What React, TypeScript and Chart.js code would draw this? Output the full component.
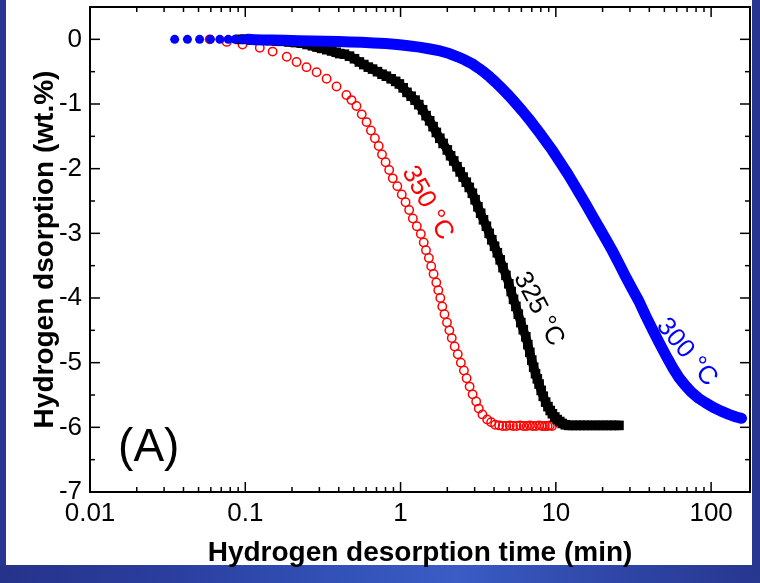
import React, { useEffect, useRef } from 'react';
import { Chart, registerables } from 'chart.js';

Chart.register(...registerables);

// ---------- data ----------
const X_TICKS = [0.01, 0.1, 1, 10, 100];
const X_TICK_LABELS = ['0.01', '0.1', '1', '10', '100'];
const X_MINOR_MULT = [2, 3, 4, 5, 6, 7, 8, 9];
const Y_TICKS = [-7, -6, -5, -4, -3, -2, -1, 0];
const Y_MINOR = [-6.5, -5.5, -4.5, -3.5, -2.5, -1.5, -0.5];

const SERIES_NAMES = ['300 °C', '325 °C', '350 °C'];

// 300 °C (blue filled circles)
const T300: [number, number][] = [
  [0.0351, 0], [0.0424, 0], [0.0508, 0], [0.0596, 0], [0.0686, 0], [0.0777, 0], [0.0859, 0], [0.0947, 0],
  [0.104, 0], [0.115, -0.005], [0.13, -0.01], [0.15, -0.01], [0.18, -0.015], [0.22, -0.02], [0.27, -0.025],
  [0.33, -0.03], [0.4, -0.035], [0.47, -0.04], [0.56, -0.045], [0.67, -0.055], [0.8, -0.065], [0.95, -0.08],
  [1.12, -0.1], [1.32, -0.12], [1.55, -0.15], [1.8, -0.18], [2.06, -0.22], [2.33, -0.27], [2.6, -0.32],
  [2.9, -0.38], [3.2, -0.45], [3.5, -0.52], [3.75, -0.58], [4.1, -0.665], [4.5, -0.76], [5.0, -0.875],
  [5.5, -0.985], [6.1, -1.11], [6.73, -1.235], [7.3, -1.345], [8.0, -1.47], [8.7, -1.59], [9.45, -1.71],
  [10.2, -1.83], [11.0, -1.95], [12.0, -2.09], [13.0, -2.23], [14.2, -2.385], [15.6, -2.55], [17.2, -2.73],
  [19.0, -2.91], [21.0, -3.09], [23.0, -3.26], [25.4, -3.46], [28.0, -3.66], [31.0, -3.86], [34.3, -4.05],
  [38.0, -4.28], [42.0, -4.49], [46.5, -4.7], [52.0, -4.92], [57.0, -5.09], [62.0, -5.23], [68.0, -5.35],
  [75.0, -5.46], [83.0, -5.55], [92.0, -5.62], [103.0, -5.69], [116.0, -5.75], [130.0, -5.8], [145.0, -5.84],
  [157.0, -5.86],
];

// 325 °C (black filled squares)
const T325: [number, number][] = [
  [0.092, 0], [0.1, 0], [0.11, -0.01], [0.12, -0.01], [0.13, -0.01], [0.145, -0.02], [0.16, -0.03],
  [0.175, -0.03], [0.19, -0.04], [0.21, -0.05], [0.23, -0.06], [0.25, -0.08], [0.271, -0.1], [0.29, -0.12],
  [0.31, -0.14], [0.335, -0.16], [0.36, -0.18], [0.385, -0.2], [0.405, -0.22], [0.435, -0.23], [0.469, -0.26],
  [0.505, -0.3], [0.543, -0.35], [0.58, -0.39], [0.62, -0.43], [0.66, -0.46], [0.71, -0.5], [0.76, -0.54],
  [0.81, -0.57], [0.87, -0.61], [0.93, -0.65], [0.982, -0.69], [1.04, -0.75], [1.1, -0.82], [1.17, -0.88],
  [1.24, -0.94], [1.31, -1.01], [1.387, -1.09], [1.46, -1.18], [1.54, -1.26], [1.62, -1.35], [1.7, -1.44],
  [1.79, -1.53], [1.88, -1.61], [2.0, -1.71], [2.1, -1.8], [2.2, -1.88], [2.31, -1.97], [2.42, -2.05],
  [2.53, -2.13], [2.65, -2.21], [2.77, -2.29], [2.9, -2.38], [3.02, -2.48], [3.15, -2.59], [3.28, -2.69],
  [3.42, -2.79], [3.57, -2.89], [3.72, -3.0], [3.87, -3.1], [4.03, -3.2], [4.2, -3.3], [4.38, -3.41],
  [4.57, -3.53], [4.77, -3.65], [4.98, -3.78], [5.16, -3.9], [5.34, -4.02], [5.53, -4.13], [5.73, -4.25],
  [5.95, -4.38], [6.17, -4.49], [6.405, -4.6], [6.6, -4.72], [6.8, -4.84], [7.0, -4.96], [7.2, -5.07],
  [7.4, -5.17], [7.6, -5.25], [7.8, -5.33], [8.05, -5.43], [8.3, -5.52], [8.6, -5.61], [8.9, -5.68],
  [9.2, -5.74], [9.5, -5.79], [9.85, -5.84], [10.2, -5.88], [10.6, -5.91], [11.0, -5.94], [11.5, -5.96],
  [12.1, -5.97], [12.8, -5.97], [13.5, -5.97], [14.3, -5.97], [15.1, -5.97], [16.0, -5.97], [17.0, -5.97],
  [18.0, -5.97], [19.1, -5.97], [20.2, -5.97], [21.4, -5.97], [22.7, -5.97], [24.0, -5.97], [25.5, -5.97],
];

// 350 °C (red open circles)
const T350: [number, number][] = [
  [0.059, 0], [0.076, -0.04], [0.096, -0.08], [0.124, -0.13], [0.15, -0.19], [0.185, -0.27], [0.214, -0.35],
  [0.248, -0.43], [0.288, -0.51], [0.334, -0.61], [0.387, -0.73], [0.448, -0.86], [0.483, -0.94],
  [0.52, -1.03], [0.5623, -1.16], [0.6037, -1.28], [0.6444, -1.41], [0.6835, -1.53], [0.7233, -1.65],
  [0.7594, -1.78], [0.8009, -1.9], [0.8446, -2.02], [0.891, -2.15], [0.9537, -2.27], [1.018, -2.4],
  [1.077, -2.52], [1.136, -2.64], [1.2, -2.77], [1.273, -2.89], [1.351, -3.01], [1.41, -3.14],
  [1.458, -3.26], [1.522, -3.38], [1.575, -3.51], [1.632, -3.63], [1.699, -3.76], [1.75, -3.88],
  [1.803, -4.0], [1.856, -4.13], [1.918, -4.25], [1.99, -4.38], [2.062, -4.5], [2.137, -4.62],
  [2.231, -4.75], [2.336, -4.87], [2.445, -5.0], [2.559, -5.12], [2.663, -5.24], [2.784, -5.37],
  [2.911, -5.49], [3.07, -5.6], [3.19, -5.71], [3.37, -5.8], [3.612, -5.88], [3.832, -5.92], [4.068, -5.96],
  [4.315, -5.97], [4.55, -5.98], [4.8, -5.98], [5.05, -5.97], [5.3, -5.98], [5.6, -5.98], [5.9, -5.97],
  [6.2, -5.98], [6.5, -5.98], [6.8, -5.97], [7.1, -5.98], [7.45, -5.98], [7.8, -5.97], [8.15, -5.98],
  [8.5, -5.98], [8.85, -5.98], [9.15, -5.97], [9.46, -5.98],
];

// ---------- styling ----------
const FONT_NARROW = '"Liberation Sans Narrow", "Arial Narrow", "Liberation Sans", Arial, sans-serif';
const FONT = '"Liberation Sans", Arial, sans-serif';

const ANNOTATIONS = [
  { text: SERIES_NAMES[2], x: 1.49, y: -2.53, angle: 61, color: '#ff0000', size: 26, family: FONT },
  { text: SERIES_NAMES[1], x: 7.75, y: -4.17, angle: 62, color: '#000000', size: 26, family: FONT },
  { text: SERIES_NAMES[0], x: 69.7, y: -4.84, angle: 50, color: '#0000ff', size: 26, family: FONT },
  { text: '(A)', x: 0.0239, y: -6.33, angle: 0, color: '#000000', size: 46, family: FONT },
];

const framePlugin = {
  id: 'frameTicks',
  afterDatasetsDraw(chart: any) {
    const { ctx, chartArea: a, scales } = chart;
    const xs = scales.x;
    const ys = scales.y;
    ctx.save();
    for (const an of ANNOTATIONS) {
      const px = xs.getPixelForValue(an.x);
      const py = ys.getPixelForValue(an.y);
      ctx.save();
      ctx.translate(px, py);
      ctx.rotate((an.angle * Math.PI) / 180);
      ctx.fillStyle = an.color;
      ctx.font = `${an.size}px ${an.family}`;
      ctx.textAlign = 'center';
      ctx.textBaseline = 'middle';
      ctx.fillText(an.text, 0, 0);
      ctx.restore();
    }
    ctx.strokeStyle = '#000';
    ctx.lineWidth = 2;
    ctx.strokeRect(a.left, a.top, a.right - a.left, a.bottom - a.top);
    ctx.lineWidth = 1.5;
    const seg = (x1: number, y1: number, x2: number, y2: number) => {
      ctx.beginPath();
      ctx.moveTo(x1, y1);
      ctx.lineTo(x2, y2);
      ctx.stroke();
    };
    const xMax = xs.max;
    for (const d of X_TICKS) {
      const px = xs.getPixelForValue(d);
      seg(px, a.bottom, px, a.bottom - 10);
      seg(px, a.top, px, a.top + 10);
      for (const m of X_MINOR_MULT) {
        const v = d * m;
        if (v > xMax) continue;
        const mx = xs.getPixelForValue(v);
        seg(mx, a.bottom, mx, a.bottom - 5);
        seg(mx, a.top, mx, a.top + 5);
      }
    }
    for (const v of Y_TICKS) {
      const py = ys.getPixelForValue(v);
      seg(a.left, py, a.left + 10, py);
      seg(a.right, py, a.right - 10, py);
    }
    for (const v of Y_MINOR) {
      const py = ys.getPixelForValue(v);
      seg(a.left, py, a.left + 5, py);
      seg(a.right, py, a.right - 5, py);
    }
    ctx.restore();
  },
};

export default function App() {
  const ref = useRef<HTMLCanvasElement>(null);

  useEffect(() => {
    const toPts = (arr: [number, number][]) => arr.map(([x, y]) => ({ x, y }));
    const chart = new Chart(ref.current!, {
      type: 'scatter',
      data: {
        datasets: [
          {
            label: SERIES_NAMES[0],
            data: toPts(T300),
            showLine: true,
            borderColor: '#0000ff',
            borderWidth: 11,
            borderCapStyle: 'round',
            borderJoinStyle: 'round',
            backgroundColor: '#0000ff',
            pointBackgroundColor: '#0000ff',
            pointBorderWidth: 0,
            pointRadius: 4.5,
            pointStyle: 'circle',
            segment: {
              borderColor: (c: any) => (c.p0.parsed.x < 0.1 ? 'rgba(0,0,0,0)' : undefined),
            },
          } as any,
          {
            label: SERIES_NAMES[1],
            data: toPts(T325),
            showLine: true,
            borderColor: '#000000',
            borderWidth: 9,
            borderJoinStyle: 'round',
            backgroundColor: '#000000',
            pointBackgroundColor: '#000000',
            pointBorderWidth: 0,
            pointRadius: 6.8,
            pointStyle: 'rect',
          } as any,
          {
            label: SERIES_NAMES[2],
            data: toPts(T350),
            showLine: false,
            backgroundColor: 'rgba(0,0,0,0)',
            pointBackgroundColor: 'rgba(0,0,0,0)',
            pointBorderColor: '#ff0000',
            borderColor: '#ff0000',
            pointBorderWidth: 1.5,
            pointRadius: 4.2,
            pointStyle: 'circle',
          } as any,
        ],
      },
      options: {
        animation: false,
        responsive: false,
        maintainAspectRatio: false,
        events: [],
        layout: { padding: { left: 0, right: 10, top: 7, bottom: 0 } },
        plugins: {
          legend: { display: false },
          tooltip: { enabled: false },
        },
        scales: {
          x: {
            type: 'logarithmic',
            min: 0.01,
            max: 178,
            afterBuildTicks: (s: any) => {
              s.ticks = X_TICKS.map((v) => ({ value: v }));
            },
            afterFit: (s: any) => {
              s.height = 91;
              s.paddingLeft = 0;
              s.paddingRight = 0;
            },
            grid: { display: false, drawTicks: false },
            border: { display: false },
            ticks: {
              autoSkip: false,
              maxRotation: 0,
              minRotation: 0,
              color: '#000',
              padding: 6,
              font: { family: FONT_NARROW, size: 26 },
              callback: (v: any) => {
                const i = X_TICKS.indexOf(Number(v));
                return i >= 0 ? X_TICK_LABELS[i] : '';
              },
            },
            title: {
              display: true,
              text: 'Hydrogen desorption time (min)',
              color: '#000',
              font: { family: FONT, size: 28, weight: 'bold', lineHeight: 1 },
              padding: { top: 0, bottom: 16 },
            },
          },
          y: {
            type: 'linear',
            min: -7,
            max: 0.5,
            afterBuildTicks: (s: any) => {
              s.ticks = Y_TICKS.map((v) => ({ value: v }));
            },
            afterFit: (s: any) => {
              s.width = 90;
              s.paddingTop = 0;
              s.paddingBottom = 0;
            },
            grid: { display: false, drawTicks: false },
            border: { display: false },
            ticks: {
              color: '#000',
              padding: 8,
              font: { family: FONT_NARROW, size: 26 },
              callback: (v: any) => String(v),
            },
            title: {
              display: true,
              text: 'Hydrogen dsorption (wt.%)',
              color: '#000',
              font: { family: FONT, size: 28, weight: 'bold', lineHeight: 1 },
              padding: { top: 31, bottom: 0 },
            },
          },
        },
      } as any,
      plugins: [framePlugin],
    });
    return () => chart.destroy();
  }, []);

  return (
    <div
      style={{
        position: 'fixed',
        left: 0,
        top: 0,
        width: 760,
        height: 583,
        background: '#283691',
        overflow: 'hidden',
      }}
    >
      <div style={{ position: 'absolute', left: 6, top: 0, width: 746, height: 565, background: '#ffffff' }} />
      <div
        style={{
          position: 'absolute',
          left: 0,
          top: 565,
          width: 760,
          height: 18,
          background:
            'linear-gradient(90deg, #25338a 0%, #2a3c9c 20%, #3352b8 45%, #3a5cc4 60%, #2f47a8 80%, #27368f 100%)',
        }}
      />
      <canvas
        ref={ref}
        width={760}
        height={583}
        style={{ position: 'absolute', left: 0, top: 0, width: 760, height: 583 }}
      />
    </div>
  );
}
